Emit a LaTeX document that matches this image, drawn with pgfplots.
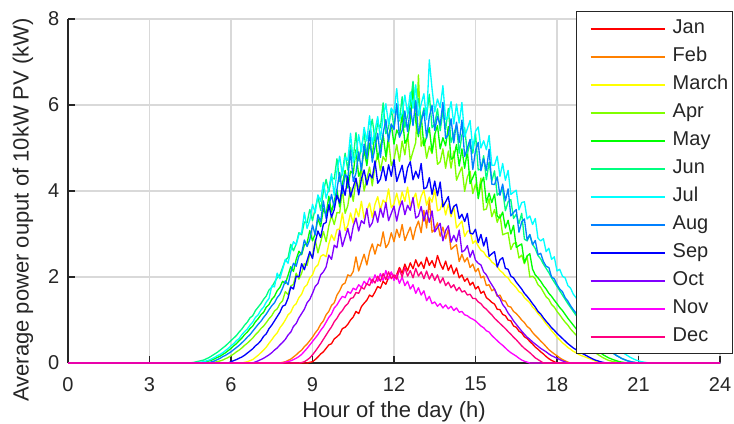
\documentclass[border=0pt]{standalone}
\usepackage{pgfplots}
\pgfplotsset{compat=1.18}
\usepackage{fontspec}
\setmainfont{Liberation Sans}
\definecolor{cJan}{rgb}{1,0,0}
\definecolor{cFeb}{rgb}{1,0.5,0}
\definecolor{cMar}{rgb}{1,1,0}
\definecolor{cApr}{rgb}{0.5,1,0}
\definecolor{cMay}{rgb}{0,1,0}
\definecolor{cJun}{rgb}{0,1,0.5}
\definecolor{cJul}{rgb}{0,1,1}
\definecolor{cAug}{rgb}{0,0.5,1}
\definecolor{cSep}{rgb}{0,0,1}
\definecolor{cOct}{rgb}{0.5,0,1}
\definecolor{cNov}{rgb}{1,0,1}
\definecolor{cDec}{rgb}{1,0,0.5}
\definecolor{axgray}{rgb}{0.15,0.15,0.15}
\begin{document}
\begin{tikzpicture}
\useasboundingbox (0,0) rectangle (550.5pt,318pt);
\begin{axis}[
 at={(51pt,45.75pt)}, anchor=south west,
 scale only axis, width=489pt, height=258pt,
 xmin=0, xmax=24, ymin=0, ymax=8,
 xtick={0,3,...,24}, ytick={0,2,...,8},
 axis lines=left, axis line style={-, line width=1.2pt, color=axgray},
 tick align=inside, major tick length=5.5pt, tick style={line width=1pt, color=axgray},
 grid=major, major grid style={line width=0.8pt, color=black!15},
 clip=false,
 /pgf/number format/assume math mode=true,
 tick label style={font=\fontsize{15}{18}\selectfont, color=axgray},
 xticklabel style={yshift=-7pt},
 yticklabel style={xshift=-3pt},
 xlabel={Hour of the day (h)}, ylabel={Average power ouput of 10kW PV (kW)},
 label style={font=\fontsize{16.5}{19}\selectfont, color=axgray},
 xlabel style={at={(axis description cs:0.5,-0.1424)}, anchor=center},
 ylabel style={at={(axis description cs:-0.069,0.445)}, anchor=center},
 every axis plot/.append style={line width=1pt, line join=round},
 legend style={at={(1.0199,1.0235)}, anchor=north east, draw=axgray, line width=1pt, fill=white,
   inner xsep=1pt, inner ysep=4pt, row sep=3.5pt, column sep=3.25pt,
   nodes={inner sep=2pt, text height=10.5pt, text depth=3pt, anchor=west, font=\fontsize{15}{18}\selectfont, text=axgray}},
 legend cell align=left,
 legend image code/.code={\path (0pt,0pt); \draw[#1, line width=1.5pt] (9pt,0pt) -- (64.5pt,0pt);},
]
% Jan
\addplot[draw=cJan] coordinates {(0,0)(8.8,0)(9.0,0.03)(9.1,0.08)(9.2,0.14)(9.3,0.21)(9.4,0.26)(9.5,0.34)(9.6,0.42)(9.7,0.45)(9.8,0.56)(9.9,0.61)(10.0,0.67)(10.1,0.80)(10.2,0.83)(10.3,0.90)(10.4,1.00)(10.5,1.07)(10.6,1.20)(10.7,1.15)(10.8,1.31)(10.9,1.39)(11.0,1.46)(11.1,1.58)(11.2,1.54)(11.3,1.65)(11.4,1.78)(11.5,1.74)(11.6,1.90)(11.7,1.83)(11.8,1.99)(11.9,2.10)(12.0,1.97)(12.1,2.06)(12.2,2.22)(12.3,2.09)(12.4,2.30)(12.5,2.14)(12.6,2.33)(12.7,2.19)(12.8,2.40)(12.9,2.24)(13.0,2.35)(13.1,2.20)(13.2,2.46)(13.3,2.27)(13.4,2.38)(13.5,2.22)(13.6,2.50)(13.7,2.31)(13.8,2.18)(13.9,2.37)(14.0,2.15)(14.1,2.28)(14.2,2.07)(14.3,2.21)(14.4,1.98)(14.5,2.05)(14.6,1.90)(14.7,1.97)(14.8,1.81)(14.9,1.88)(15.0,1.72)(15.1,1.78)(15.2,1.62)(15.3,1.67)(15.4,1.52)(15.5,1.47)(15.6,1.41)(15.7,1.37)(15.8,1.25)(15.9,1.24)(16.0,1.13)(16.1,1.10)(16.2,1.00)(16.3,0.98)(16.4,0.86)(16.5,0.83)(16.6,0.74)(16.7,0.70)(16.8,0.61)(16.9,0.57)(17.0,0.50)(17.1,0.44)(17.2,0.37)(17.3,0.32)(17.4,0.26)(17.5,0.21)(17.6,0.15)(17.7,0.10)(17.8,0.06)(17.9,0.03)(18.0,0)(24,0)};
\addlegendentry{Jan}
% Feb
\addplot[draw=cFeb] coordinates {(0,0)(7.8,0)(8.0,0.03)(8.2,0.09)(8.4,0.19)(8.5,0.25)(8.6,0.30)(8.7,0.38)(8.8,0.44)(8.9,0.52)(9.0,0.60)(9.1,0.70)(9.2,0.78)(9.3,0.90)(9.4,0.98)(9.5,1.12)(9.6,1.20)(9.7,1.34)(9.8,1.40)(9.9,1.58)(10.0,1.68)(10.1,1.82)(10.2,1.86)(10.3,2.05)(10.4,2.02)(10.5,2.13)(10.6,2.47)(10.7,2.14)(10.8,2.34)(10.9,2.53)(11.0,2.28)(11.1,2.58)(11.2,2.77)(11.3,2.53)(11.4,2.76)(11.5,2.72)(11.6,3.05)(11.7,2.68)(11.8,2.78)(11.9,3.03)(12.0,2.82)(12.1,3.11)(12.2,2.92)(12.3,3.22)(12.4,2.85)(12.5,3.01)(12.6,3.16)(12.7,2.87)(12.8,3.14)(12.9,3.30)(13.0,3.03)(13.1,3.55)(13.2,3.14)(13.3,3.80)(13.4,3.04)(13.5,3.11)(13.6,3.26)(13.7,2.95)(13.8,3.16)(13.9,2.89)(14.0,3.11)(14.1,2.64)(14.2,2.70)(14.3,2.75)(14.4,2.36)(14.5,2.53)(14.6,2.35)(14.7,2.45)(14.8,2.22)(14.9,2.30)(15.0,2.12)(15.1,2.20)(15.2,1.98)(15.3,2.02)(15.4,1.80)(15.5,1.82)(15.6,1.68)(15.7,1.72)(15.8,1.55)(15.9,1.58)(16.0,1.45)(16.1,1.44)(16.2,1.32)(16.3,1.30)(16.4,1.20)(16.5,1.15)(16.6,1.08)(16.7,1.00)(16.8,0.94)(16.9,0.85)(17.0,0.80)(17.1,0.71)(17.2,0.64)(17.3,0.58)(17.4,0.51)(17.5,0.45)(17.6,0.38)(17.7,0.31)(17.8,0.26)(17.9,0.21)(18.0,0.17)(18.1,0.12)(18.2,0.08)(18.3,0.05)(18.4,0.02)(18.5,0)(24,0)};
\addlegendentry{Feb}
% March
\addplot[draw=cMar] coordinates {(0,0)(6.4,0)(6.6,0.03)(6.8,0.08)(7.0,0.18)(7.1,0.24)(7.2,0.30)(7.3,0.37)(7.4,0.46)(7.5,0.54)(7.6,0.63)(7.7,0.70)(7.8,0.82)(7.9,0.90)(8.0,1.00)(8.1,1.12)(8.2,1.18)(8.3,1.32)(8.4,1.38)(8.5,1.52)(8.6,1.60)(8.7,1.76)(8.8,1.82)(8.9,1.98)(9.0,2.05)(9.1,2.22)(9.2,2.28)(9.3,2.48)(9.4,2.52)(9.5,2.47)(9.6,2.77)(9.7,2.98)(9.8,2.85)(9.9,3.10)(10.0,3.12)(10.1,3.49)(10.2,3.08)(10.3,3.20)(10.4,3.49)(10.5,3.25)(10.6,3.59)(10.7,3.40)(10.8,3.76)(10.9,3.36)(11.0,3.55)(11.1,3.72)(11.2,3.38)(11.3,3.69)(11.4,3.87)(11.5,3.56)(11.6,3.79)(11.7,3.71)(11.8,4.05)(11.9,3.61)(12.0,3.70)(12.1,3.95)(12.2,3.67)(12.3,3.98)(12.4,3.76)(12.5,4.09)(12.6,3.65)(12.7,3.80)(12.8,3.95)(12.9,3.60)(13.0,3.88)(13.1,4.02)(13.2,3.67)(13.3,3.86)(13.4,3.74)(13.5,4.04)(13.6,3.54)(13.7,3.57)(13.8,3.77)(13.9,3.44)(14.0,3.70)(14.1,3.40)(14.2,3.65)(14.3,3.14)(14.4,3.22)(14.5,3.30)(14.6,2.94)(14.7,3.06)(14.8,3.09)(14.9,2.78)(15.0,2.85)(15.1,2.72)(15.2,2.62)(15.3,2.58)(15.4,2.48)(15.5,2.44)(15.6,2.35)(15.7,2.30)(15.8,2.24)(15.9,2.15)(16.0,2.10)(16.1,2.02)(16.2,1.98)(16.3,1.88)(16.4,1.82)(16.5,1.75)(16.6,1.66)(16.7,1.62)(16.8,1.52)(16.9,1.46)(17.0,1.40)(17.1,1.30)(17.2,1.24)(17.3,1.15)(17.4,1.08)(17.5,1.00)(17.6,0.91)(17.7,0.84)(17.8,0.75)(17.9,0.68)(18.0,0.60)(18.1,0.54)(18.2,0.47)(18.3,0.42)(18.4,0.36)(18.5,0.32)(18.6,0.27)(18.7,0.24)(18.8,0.20)(18.9,0.17)(19.0,0.15)(19.2,0.10)(19.4,0.05)(19.6,0.01)(19.7,0)(24,0)};
\addlegendentry{March}
% Apr
\addplot[draw=cApr] coordinates {(0,0)(5.1,0)(5.3,0.01)(5.5,0.03)(5.7,0.07)(5.9,0.13)(6.0,0.17)(6.1,0.21)(6.2,0.26)(6.3,0.30)(6.4,0.35)(6.5,0.41)(6.6,0.46)(6.7,0.52)(6.8,0.58)(6.9,0.66)(7.0,0.72)(7.1,0.80)(7.2,0.86)(7.3,0.94)(7.4,1.03)(7.5,1.10)(7.6,1.21)(7.7,1.26)(7.8,1.38)(7.9,1.45)(8.0,1.66)(8.1,1.59)(8.2,1.79)(8.3,1.83)(8.4,2.09)(8.5,1.95)(8.6,2.09)(8.7,2.31)(8.8,2.27)(8.9,2.53)(9.0,2.47)(9.1,2.87)(9.2,2.56)(9.3,2.81)(9.4,3.06)(9.5,2.82)(9.6,3.19)(9.7,3.43)(9.8,3.22)(9.9,3.50)(10.0,3.49)(10.1,4.04)(10.2,3.48)(10.3,3.66)(10.4,4.08)(10.5,3.76)(10.6,4.28)(10.7,4.01)(10.8,4.55)(10.9,4.00)(11.0,4.29)(11.1,4.56)(11.2,4.12)(11.3,4.59)(11.4,4.86)(11.5,4.47)(11.6,4.80)(11.7,4.69)(11.8,5.20)(11.9,4.59)(12.0,4.73)(12.1,5.08)(12.2,4.69)(12.3,5.16)(12.4,4.84)(12.5,5.32)(12.6,4.70)(12.7,4.92)(12.8,5.13)(12.9,6.70)(13.0,5.04)(13.1,5.23)(13.2,4.76)(13.3,5.04)(13.4,4.87)(13.5,5.31)(13.6,4.62)(13.7,4.68)(13.8,4.98)(13.9,4.53)(14.0,4.93)(14.1,4.53)(14.2,4.93)(14.3,4.25)(14.4,4.41)(14.5,4.56)(14.6,3.99)(14.7,4.33)(14.8,4.46)(14.9,3.94)(15.0,4.16)(15.1,3.92)(15.2,4.30)(15.3,3.56)(15.4,3.58)(15.5,3.82)(15.6,3.40)(15.7,3.57)(15.8,3.27)(15.9,3.45)(16.0,2.98)(16.1,3.01)(16.2,3.03)(16.3,2.64)(16.4,2.78)(16.5,2.80)(16.6,2.44)(16.7,2.51)(16.8,2.31)(16.9,2.48)(17.0,2.00)(17.1,2.02)(17.2,1.96)(17.3,1.82)(17.4,1.76)(17.5,1.65)(17.6,1.54)(17.7,1.48)(17.8,1.36)(17.9,1.30)(18.0,1.20)(18.1,1.12)(18.2,1.03)(18.3,0.95)(18.4,0.88)(18.5,0.79)(18.6,0.72)(18.7,0.65)(18.8,0.58)(18.9,0.51)(19.0,0.45)(19.1,0.39)(19.2,0.34)(19.3,0.29)(19.4,0.24)(19.5,0.20)(19.7,0.12)(19.9,0.06)(20.1,0.03)(20.3,0.01)(20.5,0)(24,0)};
\addlegendentry{Apr}
% May
\addplot[draw=cMay] coordinates {(0,0)(4.7,0)(4.9,0.01)(5.1,0.03)(5.3,0.07)(5.5,0.13)(5.6,0.16)(5.7,0.20)(5.8,0.24)(5.9,0.29)(6.0,0.34)(6.1,0.40)(6.2,0.45)(6.3,0.52)(6.4,0.58)(6.5,0.66)(6.6,0.72)(6.7,0.80)(6.8,0.86)(6.9,0.96)(7.0,1.03)(7.1,1.12)(7.2,1.18)(7.3,1.30)(7.4,1.36)(7.5,1.48)(7.6,1.55)(7.7,1.68)(7.8,1.76)(7.9,1.90)(8.0,1.85)(8.1,2.04)(8.2,2.24)(8.3,2.13)(8.4,2.41)(8.5,2.60)(8.6,2.52)(8.7,2.74)(8.8,2.79)(8.9,3.08)(9.0,2.84)(9.1,3.01)(9.2,3.36)(9.3,3.17)(9.4,3.59)(9.5,3.44)(9.6,3.88)(9.7,3.51)(9.8,3.77)(9.9,4.03)(10.0,3.63)(10.1,4.16)(10.2,4.48)(10.3,4.07)(10.4,4.46)(10.5,4.40)(10.6,4.96)(10.7,4.34)(10.8,4.51)(10.9,4.96)(11.0,4.59)(11.1,5.11)(11.2,4.81)(11.3,5.35)(11.4,4.74)(11.5,5.03)(11.6,5.31)(11.7,4.80)(11.8,5.27)(11.9,5.55)(12.0,5.09)(12.1,5.42)(12.2,5.29)(12.3,5.79)(12.4,5.11)(12.5,5.23)(12.6,5.60)(12.7,6.40)(12.8,5.62)(12.9,5.26)(13.0,5.74)(13.1,5.05)(13.2,5.26)(13.3,5.47)(13.4,4.90)(13.5,5.32)(13.6,5.52)(13.7,4.98)(13.8,5.24)(13.9,5.05)(14.0,5.50)(14.1,4.74)(14.2,4.78)(14.3,5.08)(14.4,4.58)(14.5,4.98)(14.6,4.53)(14.7,4.93)(14.8,4.17)(14.9,4.31)(15.0,4.46)(15.1,3.82)(15.2,4.17)(15.3,4.32)(15.4,3.73)(15.5,3.95)(15.6,3.73)(15.7,3.93)(15.8,3.41)(15.9,3.37)(16.0,3.51)(16.1,3.14)(16.2,3.32)(16.3,3.00)(16.4,3.20)(16.5,2.69)(16.6,2.73)(16.7,2.77)(16.8,2.33)(16.9,2.49)(17.0,2.54)(17.1,2.18)(17.2,2.05)(17.3,1.98)(17.4,1.90)(17.5,1.80)(17.6,1.72)(17.7,1.62)(17.8,1.55)(17.9,1.46)(18.0,1.38)(18.1,1.29)(18.2,1.22)(18.3,1.13)(18.4,1.04)(18.5,0.96)(18.6,0.88)(18.7,0.80)(18.8,0.72)(18.9,0.65)(19.0,0.58)(19.1,0.51)(19.2,0.45)(19.3,0.39)(19.4,0.34)(19.5,0.29)(19.7,0.19)(19.9,0.12)(20.1,0.07)(20.3,0.03)(20.5,0.01)(20.7,0)(24,0)};
\addlegendentry{May}
% Jun
\addplot[draw=cJun] coordinates {(0,0)(4.4,0)(4.6,0.01)(4.8,0.04)(5.0,0.07)(5.1,0.10)(5.2,0.13)(5.3,0.17)(5.4,0.21)(5.5,0.25)(5.6,0.30)(5.7,0.35)(5.8,0.40)(5.9,0.46)(6.0,0.52)(6.1,0.58)(6.2,0.64)(6.3,0.72)(6.4,0.79)(6.5,0.88)(6.6,0.95)(6.7,1.05)(6.8,1.10)(6.9,1.22)(7.0,1.30)(7.1,1.38)(7.2,1.48)(7.3,1.56)(7.4,1.70)(7.5,1.76)(7.6,1.88)(7.7,1.98)(7.8,2.05)(7.9,2.22)(8.0,2.39)(8.1,2.45)(8.2,2.76)(8.3,2.61)(8.4,2.77)(8.5,3.03)(8.6,2.98)(8.7,3.28)(8.8,3.26)(8.9,3.57)(9.0,3.31)(9.1,3.59)(9.2,3.87)(9.3,3.55)(9.4,3.99)(9.5,4.27)(9.6,3.98)(9.7,4.31)(9.8,4.28)(9.9,4.75)(10.0,4.22)(10.1,4.41)(10.2,4.88)(10.3,4.49)(10.4,5.07)(10.5,4.76)(10.6,5.36)(10.7,4.70)(10.8,5.02)(10.9,5.34)(11.0,4.82)(11.1,5.36)(11.2,5.67)(11.3,5.19)(11.4,5.58)(11.5,5.47)(11.6,6.05)(11.7,5.33)(11.8,5.48)(11.9,5.91)(12.0,5.48)(12.1,6.00)(12.2,5.63)(12.3,6.19)(12.4,5.48)(12.5,5.76)(12.6,6.01)(12.7,6.55)(12.8,5.90)(12.9,6.15)(13.0,5.62)(13.1,5.93)(13.2,5.74)(13.3,6.25)(13.4,5.47)(13.5,5.56)(13.6,5.91)(13.7,5.40)(13.8,5.86)(13.9,5.43)(14.0,5.92)(14.1,5.13)(14.2,5.33)(14.3,5.53)(14.4,4.88)(14.5,5.30)(14.6,5.47)(14.7,4.87)(14.8,5.12)(14.9,4.88)(15.0,5.34)(15.1,4.49)(15.2,4.51)(15.3,4.82)(15.4,4.26)(15.5,4.67)(15.6,4.23)(15.7,4.47)(15.8,3.90)(15.9,3.97)(16.0,4.03)(16.1,3.54)(16.2,3.75)(16.3,3.80)(16.4,3.36)(16.5,3.46)(16.6,3.24)(16.7,3.48)(16.8,2.88)(16.9,2.84)(17.0,2.98)(17.1,2.76)(17.2,2.66)(17.3,2.50)(17.4,2.42)(17.5,2.30)(17.6,2.20)(17.7,2.10)(17.8,1.98)(17.9,1.88)(18.0,1.78)(18.1,1.68)(18.2,1.58)(18.3,1.48)(18.4,1.38)(18.5,1.29)(18.6,1.20)(18.7,1.11)(18.8,1.03)(18.9,0.95)(19.0,0.87)(19.1,0.79)(19.2,0.72)(19.3,0.64)(19.4,0.58)(19.5,0.51)(19.6,0.45)(19.7,0.39)(19.8,0.34)(19.9,0.29)(20.0,0.25)(20.2,0.17)(20.4,0.10)(20.6,0.05)(20.8,0.02)(21.0,0)(24,0)};
\addlegendentry{Jun}
% Jul
\addplot[draw=cJul] coordinates {(0,0)(4.6,0)(4.8,0.01)(5.0,0.03)(5.1,0.05)(5.2,0.07)(5.3,0.10)(5.4,0.13)(5.5,0.17)(5.6,0.20)(5.7,0.24)(5.8,0.29)(5.9,0.34)(6.0,0.40)(6.1,0.45)(6.2,0.52)(6.3,0.57)(6.4,0.66)(6.5,0.73)(6.6,0.79)(6.7,0.88)(6.8,0.95)(6.9,1.06)(7.0,1.12)(7.1,1.23)(7.2,1.30)(7.3,1.42)(7.4,1.50)(7.5,1.79)(7.6,1.77)(7.7,2.09)(7.8,1.96)(7.9,2.18)(8.0,2.41)(8.1,2.32)(8.2,2.61)(8.3,2.82)(8.4,2.75)(8.5,2.99)(8.6,3.03)(8.7,3.50)(8.8,3.13)(8.9,3.32)(9.0,3.69)(9.1,3.49)(9.2,3.91)(9.3,3.76)(9.4,4.20)(9.5,3.83)(9.6,4.06)(9.7,4.40)(9.8,3.90)(9.9,4.47)(10.0,4.81)(10.1,4.37)(10.2,4.79)(10.3,4.71)(10.4,5.34)(10.5,4.67)(10.6,4.85)(10.7,5.31)(10.8,4.91)(10.9,5.48)(11.0,5.16)(11.1,5.75)(11.2,5.09)(11.3,5.41)(11.4,5.73)(11.5,5.20)(11.6,5.73)(11.7,6.03)(11.8,5.55)(11.9,5.93)(12.0,5.81)(12.1,6.38)(12.2,5.66)(12.3,5.80)(12.4,6.23)(12.5,5.79)(12.6,6.30)(12.7,5.92)(12.8,6.47)(12.9,5.75)(13.0,6.02)(13.1,6.26)(13.2,5.66)(13.3,7.05)(13.4,6.38)(13.5,5.84)(13.6,6.14)(13.7,5.94)(13.8,6.45)(13.9,5.66)(14.0,5.74)(14.1,6.08)(14.2,5.56)(14.3,6.02)(14.4,5.58)(14.5,6.06)(14.6,5.26)(14.7,5.45)(14.8,5.64)(14.9,4.98)(15.0,5.39)(15.1,5.49)(15.2,5.00)(15.3,5.17)(15.4,4.96)(15.5,5.29)(15.6,4.60)(15.7,4.60)(15.8,4.81)(15.9,4.34)(16.0,4.64)(16.1,4.25)(16.2,4.48)(16.3,3.92)(16.4,3.97)(16.5,4.02)(16.6,3.56)(16.7,3.73)(16.8,3.75)(16.9,3.35)(17.0,3.42)(17.1,3.22)(17.2,3.36)(17.3,2.90)(17.4,2.84)(17.5,2.89)(17.6,2.59)(17.7,2.67)(17.8,2.41)(17.9,2.47)(18.0,2.14)(18.1,2.18)(18.2,2.02)(18.3,1.98)(18.4,1.80)(18.5,1.74)(18.6,1.60)(18.7,1.52)(18.8,1.40)(18.9,1.32)(19.0,1.23)(19.1,1.12)(19.2,1.05)(19.3,0.95)(19.4,0.88)(19.5,0.80)(19.6,0.72)(19.7,0.65)(19.8,0.58)(19.9,0.52)(20.0,0.46)(20.1,0.40)(20.2,0.35)(20.3,0.30)(20.4,0.25)(20.5,0.21)(20.6,0.17)(20.7,0.13)(20.8,0.10)(20.9,0.07)(21.0,0.05)(21.1,0.03)(21.2,0.02)(21.3,0.01)(21.4,0)(24,0)};
\addlegendentry{Jul}
% Aug
\addplot[draw=cAug] coordinates {(0,0)(5.0,0)(5.2,0.01)(5.4,0.05)(5.5,0.08)(5.6,0.11)(5.7,0.15)(5.8,0.18)(5.9,0.22)(6.0,0.26)(6.1,0.31)(6.2,0.36)(6.3,0.41)(6.4,0.47)(6.5,0.53)(6.6,0.60)(6.7,0.66)(6.8,0.74)(6.9,0.82)(7.0,0.90)(7.1,0.97)(7.2,1.06)(7.3,1.14)(7.4,1.24)(7.5,1.33)(7.6,1.40)(7.7,1.52)(7.8,1.60)(7.9,1.74)(8.0,1.91)(8.1,1.82)(8.2,2.11)(8.3,2.32)(8.4,2.25)(8.5,2.49)(8.6,2.55)(8.7,2.86)(8.8,2.71)(8.9,2.87)(9.0,3.21)(9.1,2.98)(9.2,3.45)(9.3,3.28)(9.4,3.77)(9.5,3.36)(9.6,3.64)(9.7,3.92)(9.8,3.60)(9.9,4.04)(10.0,4.43)(10.1,3.94)(10.2,4.39)(10.3,4.29)(10.4,4.95)(10.5,4.22)(10.6,4.42)(10.7,4.91)(10.8,4.48)(10.9,5.09)(11.0,4.75)(11.1,5.39)(11.2,4.67)(11.3,5.01)(11.4,5.34)(11.5,4.78)(11.6,5.34)(11.7,5.66)(11.8,5.15)(11.9,5.56)(12.0,5.43)(12.1,6.03)(12.2,5.25)(12.3,5.41)(12.4,5.86)(12.5,5.38)(12.6,5.93)(12.7,5.52)(12.8,6.10)(12.9,5.33)(13.0,5.61)(13.1,5.87)(13.2,5.23)(13.3,5.73)(13.4,5.99)(13.5,5.41)(13.6,5.74)(13.7,5.53)(13.8,6.06)(13.9,5.22)(14.0,5.31)(14.1,5.68)(14.2,5.12)(14.3,5.60)(14.4,5.13)(14.5,5.65)(14.6,4.80)(14.7,5.00)(14.8,5.20)(14.9,4.50)(15.0,4.94)(15.1,5.13)(15.2,4.47)(15.3,4.75)(15.4,4.48)(15.5,4.97)(15.6,4.16)(15.7,4.15)(15.8,4.33)(15.9,3.90)(16.0,4.16)(16.1,3.77)(16.2,4.05)(16.3,3.42)(16.4,3.50)(16.5,3.57)(16.6,3.04)(16.7,3.28)(16.8,3.35)(16.9,2.86)(17.0,2.99)(17.1,2.75)(17.2,2.85)(17.3,2.52)(17.4,2.55)(17.5,2.36)(17.6,2.25)(17.7,2.22)(17.8,2.00)(17.9,1.96)(18.0,1.82)(18.1,1.72)(18.2,1.66)(18.3,1.52)(18.4,1.44)(18.5,1.33)(18.6,1.24)(18.7,1.16)(18.8,1.07)(18.9,0.98)(19.0,0.90)(19.1,0.82)(19.2,0.74)(19.3,0.67)(19.4,0.60)(19.5,0.53)(19.6,0.47)(19.7,0.41)(19.8,0.36)(19.9,0.31)(20.0,0.26)(20.2,0.17)(20.4,0.10)(20.6,0.05)(20.8,0.02)(21.0,0)(24,0)};
\addlegendentry{Aug}
% Sep
\addplot[draw=cSep] coordinates {(0,0)(5.9,0)(6.0,0.03)(6.2,0.08)(6.4,0.14)(6.5,0.18)(6.6,0.23)(6.7,0.28)(6.8,0.33)(6.9,0.40)(7.0,0.45)(7.1,0.52)(7.2,0.62)(7.3,0.68)(7.4,0.80)(7.5,0.88)(7.6,0.98)(7.7,1.08)(7.8,1.18)(7.9,1.32)(8.0,1.35)(8.1,1.51)(8.2,1.77)(8.3,1.72)(8.4,2.02)(8.5,2.00)(8.6,2.31)(8.7,2.17)(8.8,2.38)(8.9,2.59)(9.0,2.43)(9.1,2.81)(9.2,3.07)(9.3,2.92)(9.4,3.23)(9.5,3.27)(9.6,3.68)(9.7,3.39)(9.8,3.57)(9.9,3.90)(10.0,3.72)(10.1,4.13)(10.2,3.90)(10.3,4.33)(10.4,3.86)(10.5,4.09)(10.6,4.30)(10.7,3.91)(10.8,4.28)(10.9,4.49)(11.0,4.14)(11.1,4.40)(11.2,4.30)(11.3,4.70)(11.4,4.18)(11.5,4.28)(11.6,4.57)(11.7,4.24)(11.8,4.61)(11.9,4.34)(12.0,4.73)(12.1,4.22)(12.2,4.41)(12.3,4.60)(12.4,4.19)(12.5,4.54)(12.6,4.68)(12.7,4.26)(12.8,4.46)(12.9,4.30)(13.0,4.64)(13.1,4.05)(13.2,4.08)(13.3,4.31)(13.4,3.92)(13.5,4.23)(13.6,3.89)(13.7,4.21)(13.8,3.63)(13.9,3.75)(14.0,3.87)(14.1,3.47)(14.2,3.64)(14.3,3.69)(14.4,3.36)(14.5,3.46)(14.6,3.29)(14.7,3.48)(14.8,3.02)(14.9,3.00)(15.0,3.11)(15.1,2.80)(15.2,2.99)(15.3,2.72)(15.4,2.92)(15.5,2.48)(15.6,2.54)(15.7,2.59)(15.8,2.23)(15.9,2.40)(16.0,2.45)(16.1,2.20)(16.2,2.18)(16.3,2.02)(16.4,1.98)(16.5,1.88)(16.6,1.80)(16.7,1.72)(16.8,1.62)(16.9,1.55)(17.0,1.47)(17.1,1.38)(17.2,1.30)(17.3,1.20)(17.4,1.14)(17.5,1.05)(17.6,0.97)(17.7,0.90)(17.8,0.82)(17.9,0.76)(18.0,0.69)(18.1,0.63)(18.2,0.57)(18.3,0.51)(18.4,0.45)(18.5,0.40)(18.6,0.35)(18.7,0.31)(18.8,0.27)(18.9,0.23)(19.0,0.20)(19.2,0.13)(19.4,0.07)(19.6,0.03)(19.8,0)(24,0)};
\addlegendentry{Sep}
% Oct
\addplot[draw=cOct] coordinates {(0,0)(6.8,0)(7.0,0.05)(7.2,0.11)(7.4,0.19)(7.5,0.24)(7.6,0.30)(7.7,0.35)(7.8,0.42)(7.9,0.48)(8.0,0.55)(8.1,0.65)(8.2,0.72)(8.3,0.85)(8.4,0.92)(8.5,1.05)(8.6,1.15)(8.7,1.25)(8.8,1.40)(8.9,1.48)(9.0,1.62)(9.1,1.78)(9.2,1.85)(9.3,2.05)(9.4,2.12)(9.5,2.23)(9.6,2.51)(9.7,2.41)(9.8,2.74)(9.9,2.68)(10.0,3.09)(10.1,2.71)(10.2,2.92)(10.3,3.13)(10.4,2.84)(10.5,3.18)(10.6,3.37)(10.7,3.07)(10.8,3.31)(10.9,3.24)(11.0,3.59)(11.1,3.16)(11.2,3.26)(11.3,3.53)(11.4,3.27)(11.5,3.60)(11.6,3.39)(11.7,3.73)(11.8,3.31)(11.9,3.48)(12.0,3.65)(12.1,3.30)(12.2,3.60)(12.3,3.77)(12.4,3.45)(12.5,3.67)(12.6,3.55)(12.7,3.85)(12.8,3.37)(12.9,3.42)(13.0,3.64)(13.1,3.30)(13.2,3.55)(13.3,3.27)(13.4,3.54)(13.5,3.05)(13.6,3.15)(13.7,3.25)(13.8,2.84)(13.9,3.08)(14.0,3.19)(14.1,2.81)(14.2,2.97)(14.3,2.82)(14.4,3.09)(14.5,2.58)(14.6,2.62)(14.7,2.73)(14.8,2.46)(14.9,2.62)(15.0,2.39)(15.1,2.32)(15.2,2.28)(15.3,2.12)(15.4,2.05)(15.5,1.92)(15.6,1.82)(15.7,1.72)(15.8,1.58)(15.9,1.50)(16.0,1.36)(16.1,1.28)(16.2,1.16)(16.3,1.08)(16.4,0.98)(16.5,0.90)(16.6,0.82)(16.7,0.74)(16.8,0.67)(16.9,0.60)(17.0,0.55)(17.1,0.49)(17.2,0.44)(17.3,0.39)(17.4,0.34)(17.5,0.30)(17.6,0.26)(17.7,0.21)(17.8,0.17)(17.9,0.14)(18.0,0.11)(18.2,0.05)(18.4,0)(24,0)};
\addlegendentry{Oct}
% Nov
\addplot[draw=cNov] coordinates {(0,0)(7.9,0)(8.0,0.02)(8.2,0.05)(8.4,0.11)(8.5,0.15)(8.6,0.20)(8.7,0.27)(8.8,0.34)(8.9,0.42)(9.0,0.50)(9.1,0.58)(9.2,0.66)(9.3,0.76)(9.4,0.84)(9.5,0.95)(9.6,1.06)(9.7,1.14)(9.8,1.28)(9.9,1.35)(10.0,1.46)(10.1,1.55)(10.2,1.52)(10.3,1.66)(10.4,1.62)(10.5,1.74)(10.6,1.70)(10.7,1.82)(10.8,1.76)(10.9,1.90)(11.0,1.82)(11.1,1.98)(11.2,1.86)(11.3,2.05)(11.4,1.90)(11.5,2.08)(11.6,1.92)(11.7,2.15)(11.8,1.95)(11.9,2.12)(12.0,1.92)(12.1,2.05)(12.2,1.85)(12.3,2.00)(12.4,1.80)(12.5,1.90)(12.6,1.72)(12.7,1.82)(12.8,1.62)(12.9,1.75)(13.0,1.58)(13.1,1.68)(13.2,1.45)(13.3,1.55)(13.4,1.38)(13.5,1.42)(13.6,1.32)(13.7,1.38)(13.8,1.28)(13.9,1.35)(14.0,1.26)(14.1,1.32)(14.2,1.22)(14.3,1.28)(14.4,1.18)(14.5,1.20)(14.6,1.12)(14.7,1.10)(14.8,1.05)(14.9,1.02)(15.0,0.98)(15.1,0.92)(15.2,0.86)(15.3,0.82)(15.4,0.75)(15.5,0.72)(15.6,0.64)(15.7,0.58)(15.8,0.52)(15.9,0.46)(16.0,0.41)(16.1,0.35)(16.2,0.29)(16.3,0.24)(16.4,0.20)(16.5,0.16)(16.6,0.11)(16.7,0.07)(16.8,0.04)(16.9,0.02)(17.0,0)(24,0)};
\addlegendentry{Nov}
% Dec
\addplot[draw=cDec] coordinates {(0,0)(8.5,0)(8.6,0.01)(8.7,0.03)(8.8,0.07)(8.9,0.12)(9.0,0.19)(9.1,0.27)(9.2,0.36)(9.3,0.45)(9.4,0.55)(9.5,0.65)(9.6,0.75)(9.7,0.84)(9.8,0.96)(9.9,1.04)(10.0,1.15)(10.1,1.22)(10.2,1.32)(10.3,1.38)(10.4,1.50)(10.5,1.52)(10.6,1.64)(10.7,1.62)(10.8,1.76)(10.9,1.72)(11.0,1.85)(11.1,1.80)(11.2,1.95)(11.3,1.86)(11.4,2.02)(11.5,1.90)(11.6,2.08)(11.7,1.94)(11.8,2.12)(11.9,1.96)(12.0,2.05)(12.1,1.95)(12.2,2.18)(12.3,2.00)(12.4,2.22)(12.5,2.02)(12.6,2.15)(12.7,1.98)(12.8,2.20)(12.9,2.02)(13.0,2.12)(13.1,1.96)(13.2,2.14)(13.3,1.95)(13.4,2.08)(13.5,1.92)(13.6,2.05)(13.7,1.86)(13.8,1.98)(13.9,1.80)(14.0,1.88)(14.1,1.75)(14.2,1.82)(14.3,1.68)(14.4,1.76)(14.5,1.65)(14.6,1.68)(14.7,1.58)(14.8,1.60)(14.9,1.50)(15.0,1.50)(15.1,1.42)(15.2,1.38)(15.3,1.30)(15.4,1.25)(15.5,1.18)(15.6,1.12)(15.7,1.04)(15.8,0.98)(15.9,0.92)(16.0,0.86)(16.1,0.80)(16.2,0.73)(16.3,0.67)(16.4,0.60)(16.5,0.54)(16.6,0.47)(16.7,0.40)(16.8,0.34)(16.9,0.29)(17.0,0.24)(17.1,0.18)(17.2,0.12)(17.3,0.08)(17.4,0.04)(17.5,0)(24,0)};
\addlegendentry{Dec}
\end{axis}
\end{tikzpicture}
\end{document}
